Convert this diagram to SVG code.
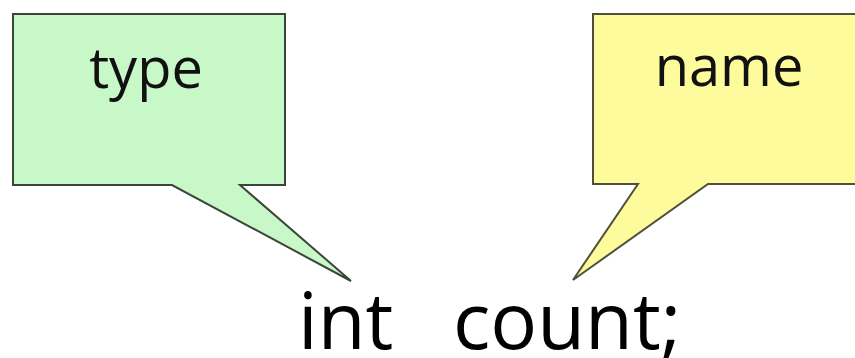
<svg xmlns="http://www.w3.org/2000/svg" width="855" height="358" viewBox="0 0 855 358">
  <style>
    .callout { stroke-width: 2; stroke-linejoin: miter; }
    .type-box { fill: #c8f7c8; stroke: #3a463a; }
    .name-box { fill: #fdfb9c; stroke: #50503a; }
    .label { font-family: "Open Sans", "Noto Sans", sans-serif; font-size: 56px; fill: #111; text-anchor: middle; }
    .code { font-family: "Open Sans", "Noto Sans", sans-serif; font-size: 78px; fill: #000; }
  </style>
  <rect width="855" height="358" fill="#ffffff"/>

  <g id="type-callout">
    <path class="callout type-box" d="M13,14 H285 V185 H240 L351,281 L172,185 H13 Z"/>
    <text class="label" x="146" y="88">type</text>
  </g>

  <g id="name-callout">
    <path class="callout name-box" d="M593,14 H860 V184 H708 L573,280 L638,184 H593 Z"/>
    <text class="label" x="729" y="86">name</text>
  </g>

  <g id="declaration">
    <text class="code" y="349"><tspan x="298">int</tspan><tspan x="453">count;</tspan></text>
  </g>
</svg>
